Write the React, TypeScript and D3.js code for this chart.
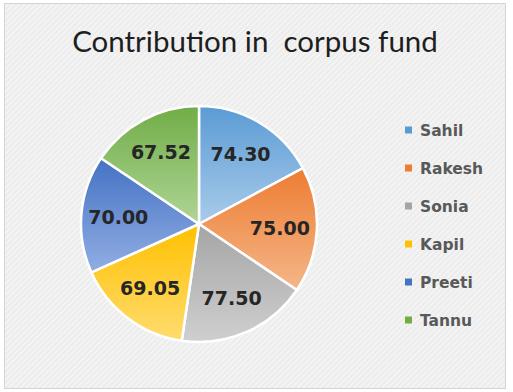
import React from 'react';
import * as d3 from 'd3';

const names = ['Sahil', 'Rakesh', 'Sonia', 'Kapil', 'Preeti', 'Tannu'];
const amounts = [74.3, 75.0, 77.5, 69.05, 70.0, 67.52];
const darkColors = ['#5b9bd5', '#ed7d31', '#a5a5a5', '#ffc000', '#4472c4', '#70ad47'];
const lightColors = ['#a9cbea', '#f5b68a', '#cfcfcf', '#ffdc6e', '#92aee3', '#b0d596'];

const W = 513;
const H = 392;

const App = () => {
  const cx = 199;
  const cy = 224;
  const radius = 118;

  const rows = names.map((name, i) => ({ name, value: amounts[i], i }));
  const pie = d3.pie<any>().sort(null).value((d) => d.value);
  const arcs = pie(rows);
  const arc = d3.arc<any>().innerRadius(0).outerRadius(radius);
  const labelArc = d3.arc<any>().innerRadius(81).outerRadius(81);

  const legendY = d3.scalePoint<string>().domain(names).range([130, 320]);

  return (
    <svg width={W} height={H} style={{ position: 'absolute', left: 0, top: 0 }}>
      <defs>
        <pattern id="hatch" width="4" height="4" patternUnits="userSpaceOnUse" patternTransform="rotate(45)">
          <rect width="4" height="4" fill="#ededed" />
          <line x1="0" y1="0" x2="0" y2="4" stroke="#f8f8f8" strokeWidth="2" />
        </pattern>
        {rows.map((d) => (
          <linearGradient key={d.name} id={`g${d.i}`} x1="0" y1="0" x2="0" y2="1">
            <stop offset="0%" stopColor={darkColors[d.i]} />
            <stop offset="100%" stopColor={lightColors[d.i]} />
          </linearGradient>
        ))}
      </defs>
      <rect x={4.5} y={3.5} width={501} height={385} fill="url(#hatch)" stroke="#d4d4d4" strokeWidth={1} />
      <text
        x={255}
        y={52}
        textAnchor="middle"
        fontFamily="Lato, 'Open Sans', sans-serif"
        fontSize={29.5}
        fill="#1e1e1e"
        style={{ whiteSpace: 'pre' }}
      >
        {'Contribution in  corpus fund'}
      </text>
      <g transform={`translate(${cx},${cy})`}>
        {arcs.map((a) => (
          <path key={a.data.name} d={arc(a) as string} fill={`url(#g${a.data.i})`} stroke="#ffffff" strokeWidth={2.5} />
        ))}
        {arcs.map((a) => {
          const [x, y] = labelArc.centroid(a);
          return (
            <text
              key={a.data.name}
              x={x}
              y={y}
              dy="0.36em"
              textAnchor="middle"
              fontFamily="'DejaVu Sans', sans-serif"
              fontWeight="bold"
              fontSize={19}
              fill="#262626"
            >
              {a.data.value.toFixed(2)}
            </text>
          );
        })}
      </g>
      <g>
        {names.map((n, i) => (
          <g key={n} transform={`translate(405,${legendY(n)})`}>
            <rect x={0} y={-3.5} width={7} height={7} fill={darkColors[i]} />
            <text
              x={15}
              y={0}
              dy="0.36em"
              fontFamily="'DejaVu Sans', sans-serif"
              fontWeight="bold"
              fontSize={15.5}
              fill="#595959"
            >
              {n}
            </text>
          </g>
        ))}
      </g>
    </svg>
  );
};

export default App;
